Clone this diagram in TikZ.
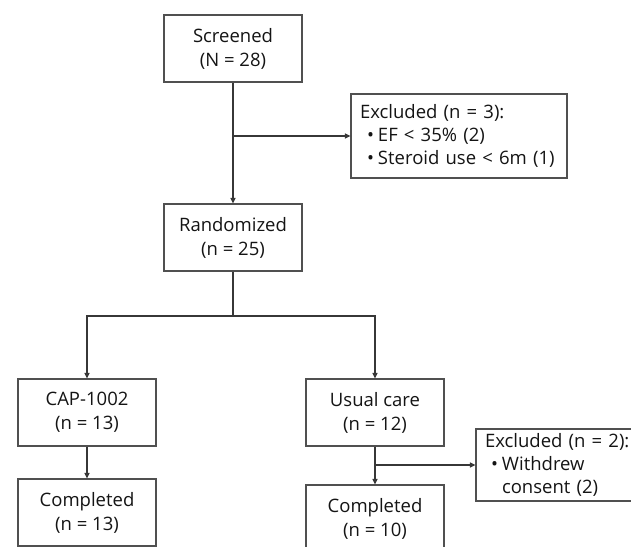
\documentclass[tikz,border=0pt]{standalone}
\usepackage{fontspec}
\setmainfont{Open Sans}
\usetikzlibrary{arrows.meta}
\definecolor{linec}{RGB}{55,55,55}
\definecolor{boxc}{RGB}{80,80,80}
\definecolor{txtc}{RGB}{20,20,20}
\tikzset{
  mainbox/.style={draw=boxc, line width=1.2pt, minimum width=138pt, minimum height=67pt,
    inner sep=0pt, align=center, text=txtc, font=\fontsize{18.5}{24}\selectfont},
  exbox/.style={draw=boxc, line width=1.2pt, inner xsep=9pt, inner ysep=0pt,
    align=left, text=txtc, font=\fontsize{18.5}{23}\selectfont},
  conn/.style={draw=linec, line width=1.2pt},
  arr/.style={conn, -{Triangle[length=5.5pt,width=5pt]}}
}
\newcommand{\blt}{\makebox[11pt][l]{•}}
\begin{document}
\begin{tikzpicture}[x=1pt,y=-1pt]
\useasboundingbox (0,0) rectangle (631,546);
\clip (0,0) rectangle (631,546);
\node[mainbox] (scr) at (233,48.5) {Screened\\(N = 28)};
\node[exbox, text width=198pt, minimum height=84pt] (ex1) at (459,136)
  {Excluded (n = 3):\\\hspace*{7pt}\blt EF < 35\% (2)\\\hspace*{7pt}\blt Steroid use < 6m (1)};
\node[mainbox] (rand) at (233,237.5) {Randomized\\(n = 25)};
\node[mainbox] (cap) at (87,412.5) {CAP-1002\\(n = 13)};
\node[mainbox] (usual) at (375,412.5) {Usual care\\(n = 12)};
\node[mainbox] (compl) at (87,512.5) {Completed\\(n = 13)};
\node[mainbox] (compr) at (375,518.5) {Completed\\(n = 10)};
\node[exbox, text width=147pt, minimum height=72pt] (ex2) at (558.5,465)
  {Excluded (n = 2):\\\hspace*{6pt}\blt\parbox[t]{120pt}{\raggedright Withdrew\\consent (2)}};
\coordinate (b1) at (scr.south |- ex1.west);
\coordinate (split) at (233,316);
\coordinate (b2) at (usual.south |- ex2.west);
\draw[arr] (scr.south) -- (rand.north);
\draw[arr] (b1) -- (ex1.west);
\draw[conn] (rand.south) -- (split);
\draw[arr] (split) -| (cap.north);
\draw[arr] (split) -| (usual.north);
\draw[arr] (cap.south) -- (compl.north);
\draw[arr] (usual.south) -- (compr.north);
\draw[arr] (b2) -- (ex2.west);
\end{tikzpicture}
\end{document}
